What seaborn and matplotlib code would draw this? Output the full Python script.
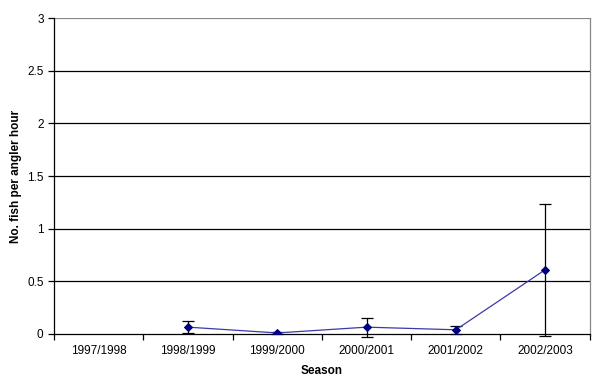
import numpy as np
import pandas as pd
import matplotlib
matplotlib.use("Agg")
import matplotlib.pyplot as plt
import seaborn as sns

# Data
seasons = ['1997/1998', '1998/1999', '1999/2000', '2000/2001', '2001/2002', '2002/2003']
catch_rate = [np.nan, 0.065, 0.01, 0.065, 0.04, 0.61]
errors = [np.nan, 0.06, 0.01, 0.09, 0.04, 0.625]

df = pd.DataFrame({'pos': range(len(seasons)), 'Season': seasons,
                   'rate': catch_rate, 'err': errors})

sns.set_style('white')
plt.rcParams['font.family'] = ['Liberation Sans', 'DejaVu Sans']
plt.rcParams['text.color'] = 'black'
plt.rcParams['axes.labelcolor'] = 'black'
plt.rcParams['xtick.color'] = 'black'
plt.rcParams['ytick.color'] = 'black'

fig = plt.figure(figsize=(6, 3.9), dpi=100)
ax = fig.add_axes([0.09, 0.1436, 0.893, 0.81])

# horizontal grid lines
for yv in np.arange(0.5, 3.01, 0.5):
    ax.axhline(yv, color='black' if yv < 3 else '#888888', lw=0.9, zorder=0)

eb = ax.errorbar(df['pos'], df['rate'], yerr=df['err'], fmt='none',
                 ecolor='black', elinewidth=0.9, capsize=4, capthick=0.9, zorder=2)
for artist in eb.lines[1] + eb.lines[2]:
    artist.set_clip_on(False)
sns.lineplot(data=df.dropna(), x='pos', y='rate', ax=ax, color='#3a3aa8', lw=0.9,
             marker='D', markersize=4.5, markerfacecolor='#000080',
             markeredgecolor='#000080', zorder=3)

ax.set_xlim(-0.5, len(seasons) - 0.5)
ax.set_ylim(0, 3)
ax.set_yticks(np.arange(0, 3.01, 0.5))
ax.set_yticklabels(['0', '0.5', '1', '1.5', '2', '2.5', '3'])

# category labels centred, ticks at category boundaries
ax.set_xticks(np.arange(-0.5, len(seasons), 1.0))
ax.set_xticklabels([])
ax.set_xticks(range(len(seasons)), minor=True)
ax.set_xticklabels(seasons, minor=True)
ax.tick_params(axis='x', which='major', length=4, width=0.9, color='black', direction='out', bottom=True)
ax.tick_params(axis='x', which='minor', length=0, pad=8, labelsize=8.5)
ax.tick_params(axis='y', length=4, width=0.9, color='black', direction='out', left=True, labelsize=8.5)

for side in ['left', 'bottom']:
    ax.spines[side].set_color('black')
    ax.spines[side].set_linewidth(0.9)
ax.spines['top'].set_visible(False)
ax.spines['right'].set_color('#888888')
ax.spines['right'].set_linewidth(0.9)

ax.set_xlabel('Season', fontsize=8.5, fontweight='bold', labelpad=6)
ax.set_ylabel('No. fish per angler hour', fontsize=8.5, fontweight='bold', labelpad=4)

fig.savefig('out.png', dpi=100)
